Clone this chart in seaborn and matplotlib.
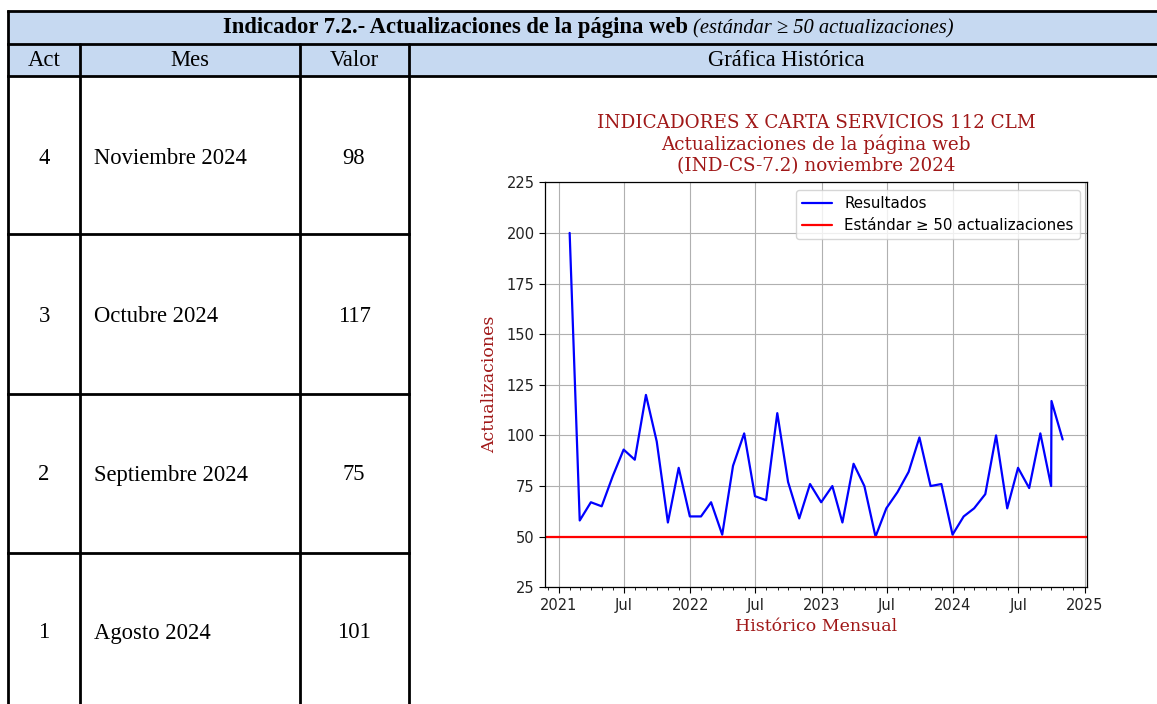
import matplotlib
matplotlib.use("Agg")
import matplotlib.pyplot as plt
import matplotlib.dates as mdates
from matplotlib.patches import Rectangle
import seaborn as sns
import pandas as pd

# ---------------- data ----------------
values = [200, 58, 67, 65, 80, 93, 88, 120, 97, 57, 84, 60,
          60, 67, 51, 85, 101, 70, 68, 111, 77, 59, 76, 67,
          75, 57, 86, 75, 50, 64, 72, 82, 99, 75, 76, 51,
          60, 64, 71, 100, 64, 84, 74, 101, 75, 117, 98]
dates = list(pd.date_range("2021-01-31", "2024-09-30", freq="ME")) + \
        [pd.Timestamp("2024-10-01"), pd.Timestamp("2024-11-01")]
standard = 50

act = [4, 3, 2, 1]
meses = ["Noviembre 2024", "Octubre 2024", "Septiembre 2024", "Agosto 2024"]
valores = [98, 117, 75, 101]

table_title = "Indicador 7.2.- Actualizaciones de la página web"
table_sub = "(estándar ≥ 50 actualizaciones)"
headers = ["Act", "Mes", "Valor", "Gráfica Histórica"]
chart_title = "INDICADORES X CARTA SERVICIOS 112 CLM\nActualizaciones de la página web\n(IND-CS-7.2) noviembre 2024"

df = pd.DataFrame({"fecha": dates, "valor": values})

# ---------------- figure ----------------
sns.set_style("white")
plt.rcParams["font.family"] = ["DejaVu Sans"]
plt.rcParams["text.color"] = "black"
plt.rcParams["xtick.color"] = "black"
plt.rcParams["ytick.color"] = "black"
W, H = 1157, 704
fig = plt.figure(figsize=(W / 100, H / 100), dpi=100)

bg = fig.add_axes([0, 0, 1, 1])
bg.set_xlim(0, W)
bg.set_ylim(H, 0)
bg.axis("off")

tfont = "Liberation Serif"
fs = 16.3
hdr_color = "#c6d9f1"
bg.add_patch(Rectangle((8, 11), W - 8, 65, facecolor=hdr_color, edgecolor="none"))
lw = 2.0
for y in [11, 44, 76]:
    bg.plot([8, W], [y, y], color="black", lw=lw, solid_capstyle="projecting")
for y in [234, 394, 553]:
    bg.plot([8, 409], [y, y], color="black", lw=lw, solid_capstyle="projecting")
bg.plot([8, 8], [11, H], color="black", lw=lw)
for x in [80, 300, 409]:
    bg.plot([x, x], [44, H], color="black", lw=lw)

bg.text(688, 28, table_title, ha="right", va="center", fontsize=16.3,
        fontweight="bold", family=tfont)
bg.text(693, 29, table_sub, ha="left", va="center", fontsize=14.8,
        style="italic", family=tfont)

hx = [44, 190, 354, 786]
for x, h in zip(hx, headers):
    bg.text(x, 61, h, ha="center", va="center", fontsize=fs, family=tfont)

row_y = [158, 316, 475, 633]
for y, a, m, v in zip(row_y, act, meses, valores):
    bg.text(44, y, str(a), ha="center", va="center", fontsize=fs, family=tfont)
    bg.text(94, y, m, ha="left", va="center", fontsize=fs, family=tfont)
    bg.text(354, y, str(v), ha="center", va="center", fontsize=fs, family=tfont)

# ---------------- chart ----------------
L, R, T, B = 545, 1087.3, 182.3, 587.3
ax = fig.add_axes([L / W, 1 - B / H, (R - L) / W, (B - T) / H])
sns.lineplot(data=df, x="fecha", y="valor", ax=ax, color="blue", lw=1.6,
             label="Resultados")
ax.axhline(standard, color="red", lw=1.6, label="Estándar ≥ 50 actualizaciones")
ax.set_ylim(25, 225)
ax.set_yticks([25, 50, 75, 100, 125, 150, 175, 200, 225])
ax.xaxis.set_major_locator(mdates.MonthLocator(bymonth=[1, 7]))
ax.xaxis.set_minor_locator(mdates.MonthLocator())
ax.xaxis.set_major_formatter(mdates.ConciseDateFormatter(ax.xaxis.get_major_locator()))
ax.grid(True, which="major", color="#b0b0b0", lw=0.8)
for s in ax.spines.values():
    s.set_visible(True)
    s.set_color("black")
    s.set_linewidth(0.9)
ax.tick_params(axis="both", which="major", labelsize=10.5, length=4, direction="out",
               bottom=True, left=True, color="black", labelcolor="#222222")
ax.tick_params(axis="x", which="minor", length=2.5, bottom=True, color="black")

red = "#a01818"
ax.set_title(chart_title, family="DejaVu Serif", color=red, fontsize=13.2,
             pad=8, linespacing=1.2)
ax.set_ylabel("Actualizaciones", family="DejaVu Serif", color=red, fontsize=12.5,
              labelpad=6)
ax.set_xlabel("Histórico Mensual", family="DejaVu Serif", color=red, fontsize=12.5,
              labelpad=4)
ax.legend(loc="upper right", fontsize=10.8, frameon=True, framealpha=0.8,
          edgecolor="#cccccc", handlelength=2.0)

fig.savefig("out.png", dpi=100)
